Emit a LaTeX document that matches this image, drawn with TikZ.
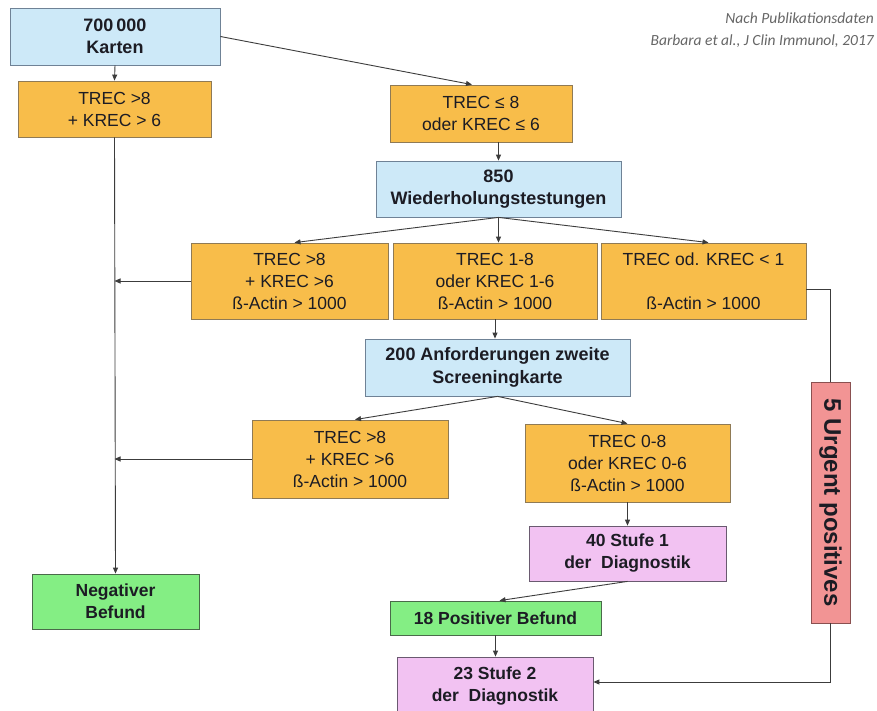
\documentclass[tikz,border=0pt]{standalone}
\usepackage{fontspec}
\setmainfont{Liberation Sans}
\newfontfamily\citefont{Carlito}
\usetikzlibrary{arrows.meta}
\definecolor{bluefill}{HTML}{CDE9F8}
\definecolor{blueline}{HTML}{6F8296}
\definecolor{orangefill}{HTML}{F8BD4A}
\definecolor{orangeline}{HTML}{8F7A55}
\definecolor{greenfill}{HTML}{84EE84}
\definecolor{greenline}{HTML}{4A6A4A}
\definecolor{pinkfill}{HTML}{F2C2F2}
\definecolor{pinkline}{HTML}{6A5A70}
\definecolor{redfill}{HTML}{F29494}
\definecolor{redline}{HTML}{8A5050}
\definecolor{lineclr}{HTML}{3C3C3C}
\definecolor{txt}{HTML}{1C1C24}
\begin{document}
\begin{tikzpicture}[x=1pt,y=-1pt,
  box/.style={draw, line width=0.8pt, inner sep=0pt, align=center, text=txt},
  bluebox/.style={box, fill=bluefill, draw=blueline, font=\bfseries\fontsize{18}{22.5}\selectfont},
  obox/.style={box, fill=orangefill, draw=orangeline, font=\fontsize{17.5}{22}\selectfont},
  gbox/.style={box, fill=greenfill, draw=greenline, font=\bfseries\fontsize{17.5}{22}\selectfont},
  pbox/.style={box, fill=pinkfill, draw=pinkline, font=\bfseries\fontsize{17.5}{22}\selectfont},
  rbox/.style={box, fill=redfill, draw=redline},
  conn/.style={draw=lineclr, line width=0.9pt},
  arr/.style={conn, -{Triangle[length=6pt,width=5pt]}}
]
\useasboundingbox[fill=white] (0,0) rectangle (877,711);

% citation
\node[anchor=north east, align=right, inner sep=0pt, text=black!60,
      font=\citefont\itshape\fontsize{15.5}{21.5}\selectfont] (cite) at (874,13)
  {Nach Publikationsdaten\\Barbara et al., J Clin Immunol, 2017};

% boxes
\node[bluebox, minimum width=210pt, minimum height=57pt] (karten) at (115,36.5) {700\,000\\Karten};
\node[obox, minimum width=193pt, minimum height=56pt] (b1) at (114.5,109) {TREC >8\\+ KREC > 6};
\node[obox, minimum width=182pt, minimum height=57pt] (b2) at (481,113.5) {TREC ≤ 8\\oder KREC ≤ 6};
\node[bluebox, minimum width=245pt, minimum height=56pt] (w850) at (498.5,189) {850\\Wiederholungstestungen};
\node[obox, minimum width=197pt, minimum height=76pt] (A) at (289.5,281) {TREC >8\\+ KREC >6\\ß-Actin > 1000};
\node[obox, minimum width=204pt, minimum height=76pt] (B) at (495,281) {TREC 1-8\\oder KREC 1-6\\ß-Actin > 1000};
\node[obox, minimum width=205pt, minimum height=76pt] (C) at (703.5,281) {TREC od. KREC < 1\\[22pt]ß-Actin > 1000};
\node[bluebox, minimum width=265pt, minimum height=57pt] (anf) at (497.5,367.5) {200 Anforderungen zweite\\Screeningkarte};
\node[obox, minimum width=196pt, minimum height=78pt] (D) at (350,459) {TREC >8\\+ KREC >6\\ß-Actin > 1000};
\node[obox, minimum width=205pt, minimum height=78pt] (E) at (627.5,463) {TREC 0-8\\oder KREC 0-6\\ß-Actin > 1000};
\node[pbox, minimum width=197pt, minimum height=55pt] (s1) at (627.5,553.5) {40 Stufe 1\\der~ Diagnostik};
\node[gbox, minimum width=211pt, minimum height=34pt] (pos) at (495.5,618) {18 Positiver Befund};
\node[pbox, minimum width=196pt, minimum height=58pt] (s2) at (495,686) {23 Stufe 2\\der~ Diagnostik};
\node[gbox, minimum width=167pt, minimum height=55pt] (neg) at (115.5,601.5) {Negativer\\Befund};
\node[rbox, minimum width=39pt, minimum height=241pt] (red) at (830.5,502.5) {};
\node[rotate=-90, inner sep=0pt, text=txt, font=\bfseries\fontsize{24}{28}\selectfont] (redtext) at (red.center) {5 Urgent positives};

% connectors
\draw[arr] (karten.south) -- (b1.north);
\draw[arr] (karten.east) -- ([xshift=-9pt]b2.north);
\draw[arr] (w850.north |- b2.south) -- (w850.north);
\draw[arr] (w850.south) -- ([xshift=5pt]A.north);
\draw[arr] (w850.south) -- (w850.south |- A.north);
\draw[arr] (w850.south) -- ([xshift=5pt]C.north);
\draw[arr] (b1.south) -- (neg.north);
\draw[arr] (A.west) -- (A.west -| b1.south);
\draw[arr] (D.west) -- (D.west -| b1.south);
\draw[arr] (B.south) -- (B.south |- anf.north);
\draw[arr] (anf.south) -- ([xshift=5pt]D.north);
\draw[arr] (anf.south) -- (E.north);
\draw[arr] (E.south) -- (s1.north);
\draw[arr] (s1.south) -- ([xshift=4pt]pos.north);
\draw[arr] (pos.south) -- (pos.south |- s2.north);
\draw[conn] ([yshift=-8pt]C.east) -| (red.north);
\draw[arr] (red.south) |- ([yshift=4pt]s2.east);
\end{tikzpicture}
\end{document}
